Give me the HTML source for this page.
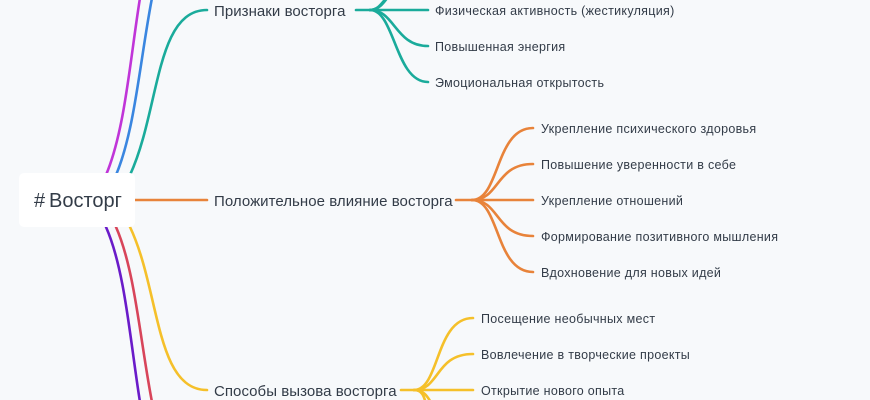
<!DOCTYPE html>
<html><head><meta charset="utf-8"><style>
html,body{margin:0;padding:0;background:#f7f9fb;}
svg{display:block;font-family:"Liberation Sans","DejaVu Sans",sans-serif;}
</style></head><body>
<svg width="870" height="400" viewBox="0 0 870 400" xmlns="http://www.w3.org/2000/svg">
<rect width="870" height="400" fill="#f7f9fb"/>
<g fill="none" stroke-width="2.6" stroke-linecap="round">
<path d="M106,175 C125,130 130,60 140,-2" stroke="#c035d8"/>
<path d="M116,175 C135,130 140,60 152,-2" stroke="#3a86e0"/>
<path d="M130,175 C160,110 155,10 207,10" stroke="#1aab9b"/>
<path d="M135,200 L207,200" stroke="#e8833a"/>
<path d="M130,227 C160,290 155,390 207,390" stroke="#f5c02a"/>
<path d="M116,227 C135,270 140,340 152,402" stroke="#d8455a"/>
<path d="M106,227 C125,270 130,340 140,402" stroke="#6a1bc9"/>
<g stroke="#1aab9b">
<path d="M356,10 L370,10"/>
<path d="M370,10 L428,10"/>
<path d="M370,10 C395,10 395,46 428,46"/>
<path d="M370,10 C395,10 395,82 428,82"/>
<path d="M370,10 C380,10 382,0 390,-4"/>
<path d="M370,10 C385,10 388,-10 400,-14"/>
</g>
<g stroke="#e8833a">
<path d="M456,200 L472,200"/>
<path d="M472,200 C500,200 495,128 533,128"/>
<path d="M472,200 C500,200 495,164 533,164"/>
<path d="M472,200 L533,200"/>
<path d="M472,200 C500,200 495,236 533,236"/>
<path d="M472,200 C500,200 495,272 533,272"/>
</g>
<g stroke="#f5c02a">
<path d="M401,390 L414,390"/>
<path d="M414,390 C440,390 435,318 473,318"/>
<path d="M414,390 C440,390 435,354 473,354"/>
<path d="M414,390 L473,390"/>
<path d="M414,390 C425,390 428,398 432,404"/>
<path d="M414,390 C422,390 424,396 426,404"/>
</g>
</g>
<rect x="19" y="173" width="116" height="54" rx="5" fill="#ffffff"/>
<g fill="#333c48">
<text x="34" y="207" font-size="20">#</text>
<text x="49" y="207" font-size="20">Восторг</text>
<g font-size="15" letter-spacing="0.05">
<text x="214" y="16">Признаки восторга</text>
<text x="214" y="206">Положительное влияние восторга</text>
<text x="214" y="396">Способы вызова восторга</text>
</g>
<g font-size="12.5" letter-spacing="0.3">
<text x="435" y="15">Физическая активность (жестикуляция)</text>
<text x="435" y="51">Повышенная энергия</text>
<text x="435" y="87">Эмоциональная открытость</text>
<text x="541" y="133">Укрепление психического здоровья</text>
<text x="541" y="169">Повышение уверенности в себе</text>
<text x="541" y="205">Укрепление отношений</text>
<text x="541" y="241">Формирование позитивного мышления</text>
<text x="541" y="277">Вдохновение для новых идей</text>
<text x="481" y="323">Посещение необычных мест</text>
<text x="481" y="359">Вовлечение в творческие проекты</text>
<text x="481" y="395">Открытие нового опыта</text>
</g>
</g>
</svg>
</body></html>
